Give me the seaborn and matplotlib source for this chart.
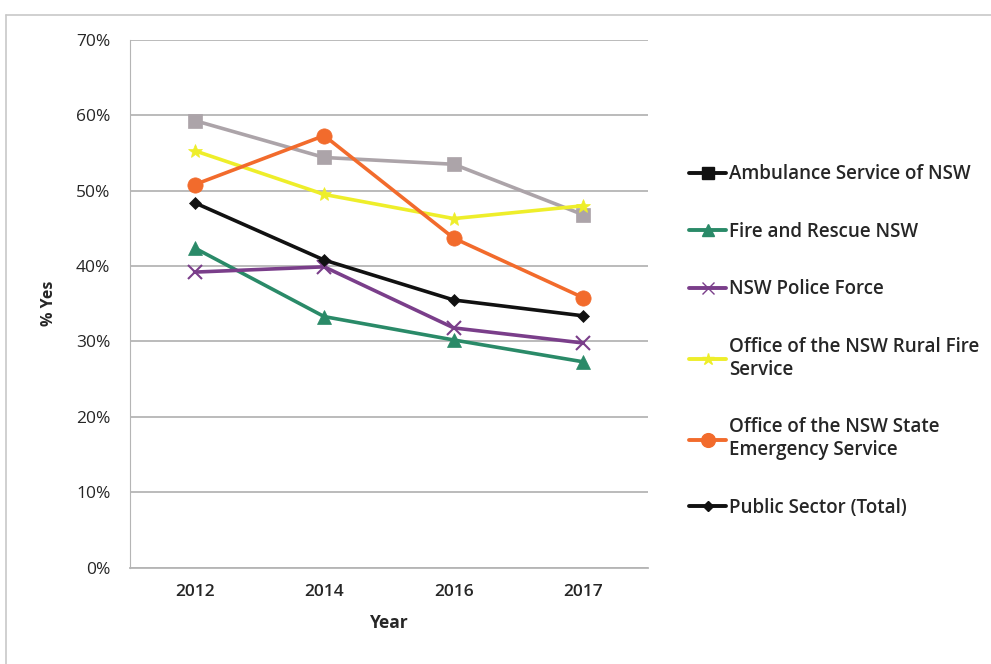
import pandas as pd
import matplotlib.pyplot as plt
import seaborn as sns
from matplotlib.lines import Line2D
from matplotlib.ticker import PercentFormatter, FixedLocator

# survey results (% answering yes)
years = ['2012', '2014', '2016', '2017']
ambulance = [59.3, 54.4, 53.5, 46.8]
fire_rescue = [42.4, 33.3, 30.2, 27.3]
police = [39.2, 39.9, 31.8, 29.8]
rural_fire = [55.3, 49.5, 46.3, 48.0]
ses = [50.8, 57.3, 43.7, 35.8]
public_total = [48.4, 40.8, 35.5, 33.4]

series_names = ['Ambulance Service of NSW', 'Fire and Rescue NSW', 'NSW Police Force',
                'Office of the NSW Rural Fire Service', 'Office of the NSW State Emergency Service',
                'Public Sector (Total)']
series_values = [ambulance, fire_rescue, police, rural_fire, ses, public_total]
legend_labels = ['Ambulance Service of NSW', 'Fire and Rescue NSW', 'NSW Police Force',
                 'Office of the NSW Rural Fire\nService', 'Office of the NSW State\nEmergency Service',
                 'Public Sector (Total)']

colors = ['#aca4a9', '#2a8a68', '#7a3e8a', '#eeee2a', '#f26b2c', '#111111']
legend_colors = ['#111111', '#2a8a68', '#7a3e8a', '#eeee2a', '#f26b2c', '#111111']
markers = ['s', '^', 'x', '*', 'o', 'D']
msizes = [10, 10, 10, 10, 11, 6]

df = pd.concat([pd.DataFrame({'Year': years, 'Value': v, 'Series': n})
                for n, v in zip(series_names, series_values)], ignore_index=True)

sns.set_style('white')
plt.rcParams['font.family'] = ['Open Sans', 'DejaVu Sans']

fig = plt.figure(figsize=(9.91, 6.64), dpi=100)
ax = fig.add_axes([0.131, 0.145, 0.523, 0.795])

for i, name in enumerate(series_names):
    sub = df[df['Series'] == name]
    sns.lineplot(data=sub, x='Year', y='Value', ax=ax, color=colors[i], marker=markers[i],
                 markersize=msizes[i], linewidth=2.6, markeredgewidth=1.5 if markers[i] == 'x' else 0.5,
                 markeredgecolor=colors[i], legend=False)

ax.set_xlim(-0.5, 3.5)
ax.set_ylim(0, 70)
ax.set_yticks(range(0, 71, 10))
ax.yaxis.set_major_formatter(PercentFormatter(decimals=0))
ax.grid(axis='y', color='#b5b5b5', linewidth=1.3)
ax.set_axisbelow(True)
for s in ['top', 'right']:
    ax.spines[s].set_visible(False)
ax.spines['left'].set_color('#b5b5b5')
ax.spines['bottom'].set_color('#b5b5b5')
ax.spines['bottom'].set_linewidth(1.3)
ax.tick_params(axis='y', labelsize=12.5, length=0, pad=14)
ax.tick_params(axis='x', labelsize=12.5, length=0, pad=12)
ax.set_xticks(range(len(years)))
ax.set_xticklabels(years, fontweight='semibold')
# small tick marks between the categories, like the original
ax.xaxis.set_minor_locator(FixedLocator([0.5, 1.5, 2.5, 3.5]))
ax.tick_params(axis='x', which='minor', length=5, width=1.2, color='#b5b5b5', direction='out')
ax.set_xlabel('Year', fontsize=12.5, fontweight='bold', labelpad=10)
ax.set_ylabel('% Yes', fontsize=11.5, fontweight='bold', labelpad=14)

handles = [Line2D([0], [0], color=legend_colors[i], marker=markers[i], markersize=msizes[i] * 0.9,
                  linewidth=2.8, markeredgecolor=legend_colors[i]) for i in range(len(series_names))]
leg = fig.legend(handles, legend_labels, loc='upper left', bbox_to_anchor=(0.678, 0.778),
                 frameon=False, handlelength=2.0, handletextpad=0.15, labelspacing=2.0,
                 prop={'size': 13.5, 'weight': 'semibold'})

# outer frame lines (left and top) around the chart
fig.add_artist(Line2D([0.006, 0.006], [0.0, 0.978], transform=fig.transFigure, color='#c8c8c8', linewidth=1.2))
fig.add_artist(Line2D([0.006, 1.0], [0.978, 0.978], transform=fig.transFigure, color='#c8c8c8', linewidth=1.2))

fig.savefig('out.png', dpi=100)
